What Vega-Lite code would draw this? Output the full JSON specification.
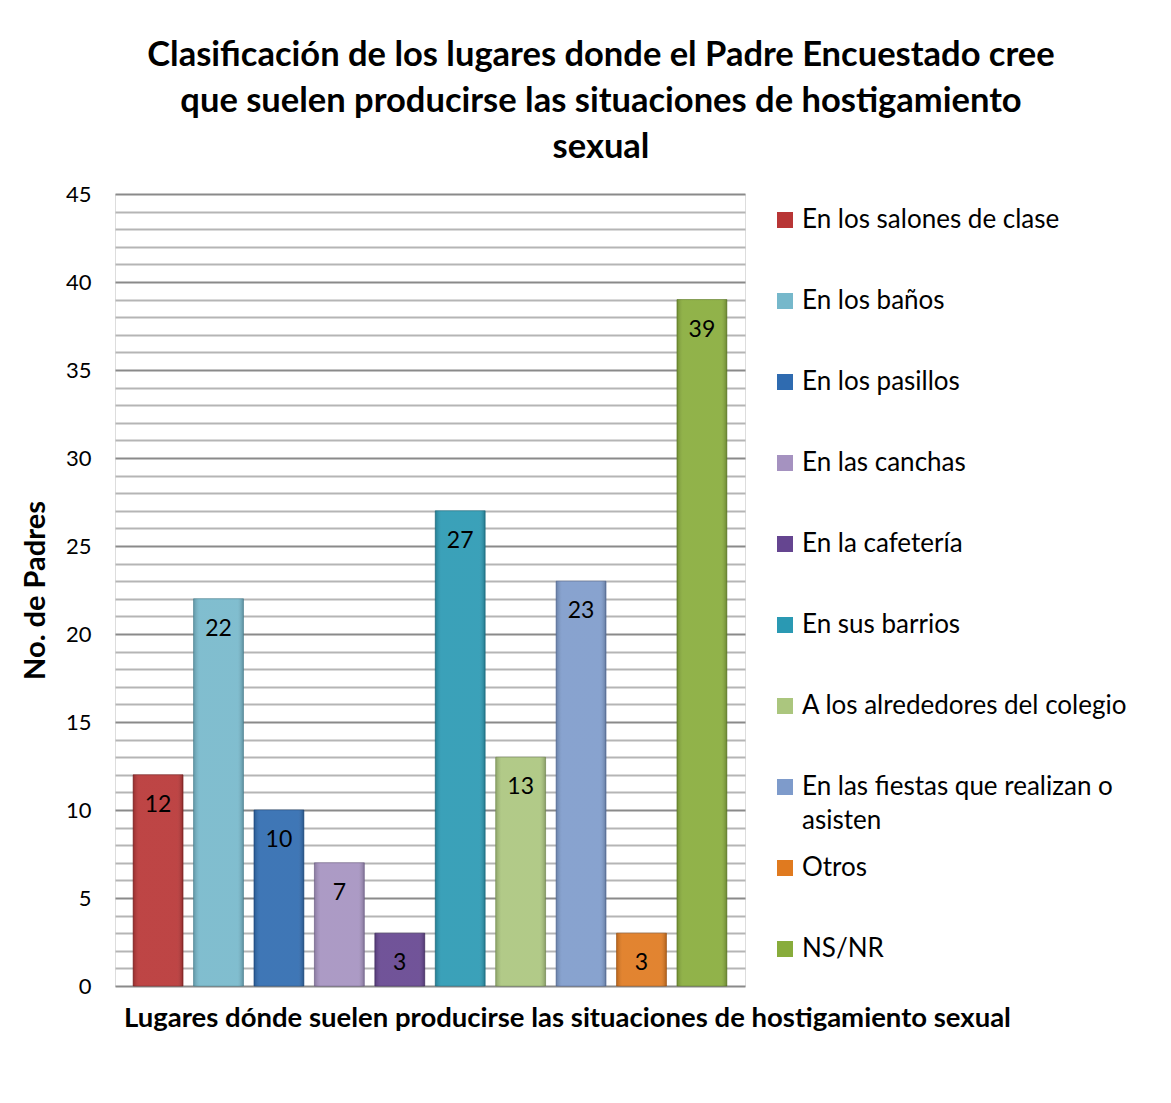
{
  "$schema": "https://vega.github.io/schema/vega-lite/v6.json",
  "width": 630,
  "height": 792,
  "autosize": {"type": "none"},
  "padding": {"left": 115, "top": 194, "right": 426, "bottom": 117},
  "background": "white",
  "data": {
    "values": [
      {"lugar": "En los salones de clase", "padres": 12},
      {"lugar": "En los baños", "padres": 22},
      {"lugar": "En los pasillos", "padres": 10},
      {"lugar": "En las canchas", "padres": 7},
      {"lugar": "En la cafetería", "padres": 3},
      {"lugar": "En sus barrios", "padres": 27},
      {"lugar": "A los alrededores del colegio", "padres": 13},
      {"lugar": "En las fiestas que realizan o asisten", "padres": 23},
      {"lugar": "Otros", "padres": 3},
      {"lugar": "NS/NR", "padres": 39}
    ]
  },
  "title": {
    "text": ["Clasificación de los lugares donde el Padre Encuestado cree", "que suelen producirse las situaciones de hostigamiento", "sexual"],
    "anchor": "middle",
    "frame": "group",
    "dx": 171,
    "offset": 18,
    "font": "Lato",
    "fontSize": 34.5,
    "fontWeight": "bold",
    "lineHeight": 46,
    "color": "black"
  },
  "encoding": {
    "x": {
      "field": "lugar",
      "type": "nominal",
      "sort": null,
      "scale": {"paddingInner": 0.174, "paddingOuter": 0.3},
      "axis": {
        "title": "Lugares dónde suelen producirse las situaciones de hostigamiento sexual",
        "labels": false,
        "ticks": false,
        "domain": false,
        "titleFont": "Lato",
        "titleFontSize": 27.5,
        "titleFontWeight": "bold",
        "titleColor": "black",
        "titleX": 452,
        "titleY": 32,
        "titleBaseline": "middle"
      }
    },
    "y": {
      "field": "padres",
      "type": "quantitative",
      "scale": {"domain": [0, 45], "nice": false},
      "axis": {
        "title": "No. de Padres",
        "values": [0,1,2,3,4,5,6,7,8,9,10,11,12,13,14,15,16,17,18,19,20,21,22,23,24,25,26,27,28,29,30,31,32,33,34,35,36,37,38,39,40,41,42,43,44,45],
        "labelExpr": "datum.value % 5 == 0 ? datum.label : ''",
        "ticks": false,
        "domain": false,
        "grid": true,
        "gridColor": {"expr": "datum.value % 5 == 0 ? '#8a8a8a' : '#b5b5b5'"},
        "gridWidth": 2,
        "gridOpacity": 1,
        "labelFont": "Lato",
        "labelFontSize": 22,
        "labelColor": "black",
        "labelPadding": 24,
        "labelBound": false,
        "titleFont": "Lato",
        "titleFontSize": 29,
        "titleFontWeight": "bold",
        "titleColor": "black",
        "titleX": -80,
        "titleY": 396,
        "titleAngle": -90,
        "titleAnchor": "middle",
        "titleBaseline": "middle"
      }
    }
  },
  "layer": [
    {
      "mark": {"type": "bar", "strokeWidth": 1, "strokeOpacity": 0.6},
      "encoding": {
        "fill": {
          "field": "lugar",
          "type": "nominal",
          "sort": null,
          "scale": {
            "domain": ["En los salones de clase", "En los baños", "En los pasillos", "En las canchas", "En la cafetería", "En sus barrios", "A los alrededores del colegio", "En las fiestas que realizan o asisten", "Otros", "NS/NR"],
            "range": ["#B83535", "#76B8CB", "#2F6BB0", "#A592C0", "#654590", "#2A99B3", "#ABC67E", "#7E9BCB", "#E07A1F", "#88AC3B"]
          },
          "legend": {
            "title": null,
            "orient": "none",
            "legendX": 657,
            "legendY": 13,
            "symbolType": "square",
            "symbolSize": 256,
            "symbolStrokeWidth": 0,
            "labelFont": "Lato",
            "labelFontSize": 26,
            "labelColor": "black",
            "labelOffset": 4,
            "labelLimit": 500,
            "rowPadding": 21,
            "padding": 0,
            "labelExpr": "datum.label == 'En las fiestas que realizan o asisten' ? ['En las fiestas que realizan o', 'asisten'] : [datum.label, ' ']",
            "encode": {"labels": {"update": {"lineHeight": {"value": 34}}}}
          }
        },
        "stroke": {
          "field": "lugar",
          "type": "nominal",
          "sort": null,
          "scale": {
            "domain": ["En los salones de clase", "En los baños", "En los pasillos", "En las canchas", "En la cafetería", "En sus barrios", "A los alrededores del colegio", "En las fiestas que realizan o asisten", "Otros", "NS/NR"],
            "range": ["#7a1f1f", "#4a8596", "#1d4a80", "#6f5f8a", "#3f2a60", "#1a6a7e", "#778f50", "#51699a", "#a5540f", "#5c7a22"]
          },
          "legend": null
        }
      }
    },
    {
      "mark": {
        "type": "bar",
        "color": {
          "gradient": "linear",
          "x1": 0, "x2": 1, "y1": 0, "y2": 0,
          "stops": [
            {"offset": 0, "color": "rgba(0,0,0,0.18)"},
            {"offset": 0.12, "color": "rgba(255,255,255,0.08)"},
            {"offset": 0.88, "color": "rgba(255,255,255,0.08)"},
            {"offset": 1, "color": "rgba(0,0,0,0.22)"}
          ]
        }
      },
      "encoding": {}
    },
    {
      "mark": {"type": "text", "baseline": "middle", "dy": 30, "font": "Lato", "fontSize": 23, "color": "black"},
      "encoding": {"text": {"field": "padres", "type": "quantitative"}}
    }
  ]
}
